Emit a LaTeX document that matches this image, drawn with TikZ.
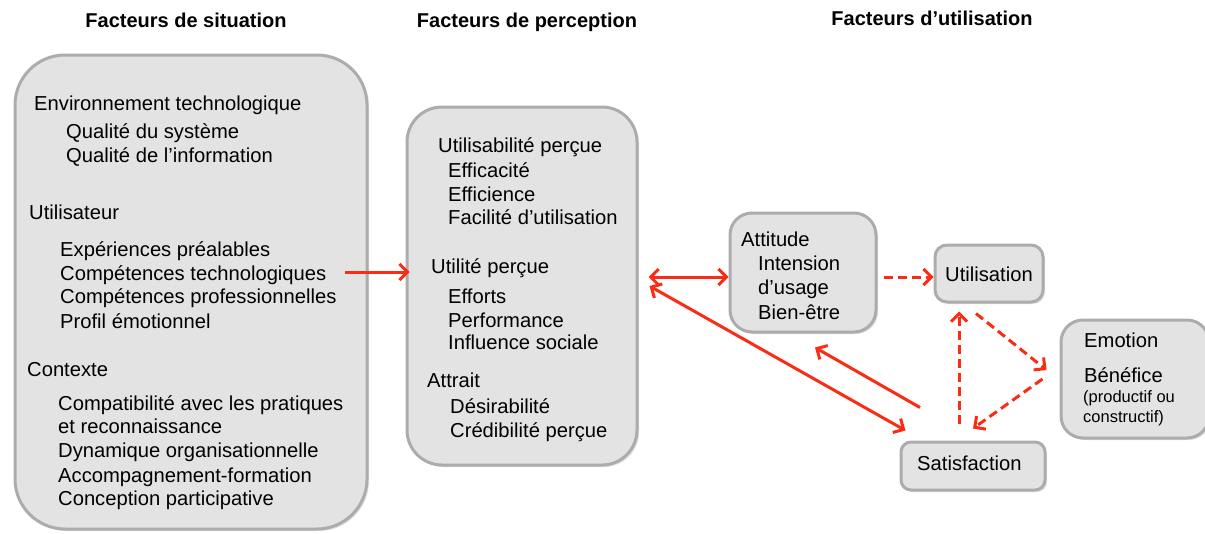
\documentclass[tikz,border=0pt]{standalone}
\usepackage{fontspec}
\setmainfont{Liberation Sans}
\usepackage{tikz}
\usetikzlibrary{arrows.meta}
\usetikzlibrary{shadows}
\definecolor{boxfill}{RGB}{227,227,227}
\definecolor{boxline}{RGB}{172,172,172}
\definecolor{arrowred}{RGB}{250,45,20}
\begin{document}
\begin{tikzpicture}[x=1pt,y=-1pt]
\tikzset{box/.style = {draw=boxline, fill=boxfill, line width=3pt, inner sep=0pt,
  drop shadow={shadow xshift=2pt, shadow yshift=-2pt, fill=black!25}}}
\tikzset{txt/.style = {anchor=base west, inner sep=0pt, font=\fontsize{20.2}{24}\selectfont}}
\tikzset{small/.style = {anchor=base west, inner sep=0pt, font=\fontsize{16.5}{20}\selectfont}}
\tikzset{head/.style = {anchor=base, inner sep=0pt, font=\fontsize{20}{24}\selectfont\bfseries}}
\tikzset{link/.style = {draw=arrowred, line width=3pt, >={Straight Barb[length=8pt,width=16pt]}}}
\tikzset{dlink/.style = {link, dash pattern=on 9pt off 5pt}}
\useasboundingbox (0,0) rectangle (1205,533);
% headers
\node[head](hsit) at (186,27) {Facteurs de situation};
\node[head](hper) at (527,27) {Facteurs de perception};
\node[head](huti) at (932,25) {Facteurs d’utilisation};
% boxes
\node[box, rounded corners=50pt, minimum width=352pt, minimum height=474pt](sit) at (191,292) {};
\node[box, rounded corners=35pt, minimum width=230pt, minimum height=358pt](per) at (522,286) {};
\node[box, rounded corners=22pt, minimum width=146pt, minimum height=119pt](att) at (803,272.5) {};
\node[box, rounded corners=12pt, minimum width=108pt, minimum height=57pt](uti) at (989,273.5) {};
\node[box, rounded corners=22pt, minimum width=148pt, minimum height=118pt](emo) at (1135,379) {};
\node[box, rounded corners=10pt, minimum width=144pt, minimum height=48pt](sat) at (973,466) {};
% situation
\node[txt](env) at (34,110) {Environnement technologique};
\node[txt](env1) at (66,138) {Qualité du système};
\node[txt](env2) at (66,162) {Qualité de l’information};
\node[txt](usr) at (29,219) {Utilisateur};
\node[txt](usr1) at (60,256) {Expériences préalables};
\node[txt](usr2) at (60,280) {Compétences technologiques};
\node[txt](usr3) at (60,303) {Compétences professionnelles};
\node[txt](usr4) at (60,328) {Profil émotionnel};
\node[txt](ctx) at (27,376) {Contexte};
\node[txt](ctx1) at (58,410) {Compatibilité avec les pratiques};
\node[txt](ctx2) at (58,433) {et reconnaissance};
\node[txt](ctx3) at (58,457) {Dynamique organisationnelle};
\node[txt](ctx4) at (58,482) {Accompagnement-formation};
\node[txt](ctx5) at (58,505) {Conception participative};
% perception
\node[txt](usab) at (438,152) {Utilisabilité perçue};
\node[txt](usab1) at (448,177) {Efficacité};
\node[txt](usab2) at (448,201) {Efficience};
\node[txt](usab3) at (448,224) {Facilité d’utilisation};
\node[txt](util) at (431,273) {Utilité perçue};
\node[txt](util1) at (448,303) {Efforts};
\node[txt](util2) at (448,327) {Performance};
\node[txt](util3) at (448,349) {Influence sociale};
\node[txt](attr) at (427,387) {Attrait};
\node[txt](attr1) at (450,413) {Désirabilité};
\node[txt](attr2) at (450,437) {Crédibilité perçue};
% utilisation
\node[txt](att0) at (741,246) {Attitude};
\node[txt](att1) at (758,270) {Intension};
\node[txt](att2) at (758,294) {d’usage};
\node[txt](att3) at (758,319) {Bien-être};
\node[txt](uti0) at (945,281) {Utilisation};
\node[txt](emo0) at (1084,347) {Emotion};
\node[txt](emo1) at (1084,382) {Bénéfice};
\node[small](emo2) at (1083,402) {(productif ou};
\node[small](emo3) at (1083,422) {constructif)};
\node[txt](sat0) at (917,470) {Satisfaction};
% connectors
\draw[link, ->] ([shift={(-24,-20)}]sit.east) -- ([shift={(4,-14)}]per.west);
\draw[link, <->] ([shift={(10,-9)}]per.east) -- ([shift={(0,4.5)}]att.west);
\draw[link, <->] ([shift={(11,0)}]per.east) -- ([shift={(6,-10)}]sat.north west);
\draw[link, ->] ([shift={(-53,-33)}]sat.north) -- ([shift={(12,14)}]att.south);
\draw[dlink, ->] ([shift={(6,4.5)}]att.east) -- ([shift={(0,3.5)}]uti.west);
\draw[dlink, ->] ([shift={(-14,-17)}]sat.north) -- ([shift={(-30,8)}]uti.south);
\draw[dlink, ->] ([shift={(-13,10)}]uti.south) -- ([shift={(-13,-9)}]emo.west);
\draw[dlink, ->] ([shift={(-17,0)}]emo.west) -- ([shift={(0,-12)}]sat.north);
\end{tikzpicture}
\end{document}
